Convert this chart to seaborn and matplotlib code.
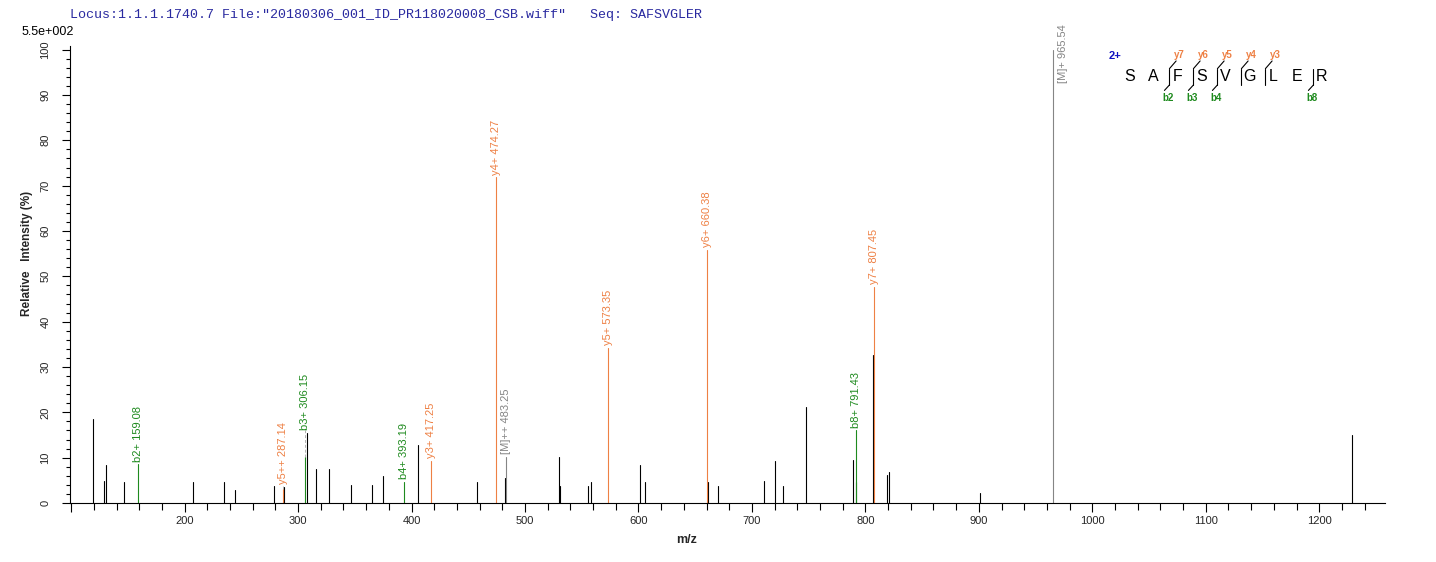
import numpy as np
import pandas as pd
import seaborn as sns
import matplotlib.pyplot as plt
from matplotlib.ticker import MultipleLocator

# unassigned peaks: m/z and relative intensity (%)
peak_mz = [119.6, 129.3, 130.8, 146.9, 207.2, 235.1, 244.8, 279.1, 288.0, 307.5,
           316.2, 327.6, 346.5, 365.5, 375.2, 406.1, 457.5, 482.6, 530.3, 531.2,
           555.9, 558.5, 601.7, 606.1, 661.7, 670.5, 711.0, 720.7, 727.8, 748.0,
           789.5, 791.9, 806.3, 819.4, 820.6, 901.3, 1229.3]
peak_int = [18.5, 4.9, 8.4, 4.6, 4.6, 4.6, 2.9, 3.7, 3.5, 15.5,
            7.5, 7.5, 4.0, 4.0, 6.0, 12.8, 4.6, 5.5, 10.2, 3.7,
            3.7, 4.6, 8.4, 4.6, 4.6, 3.7, 4.9, 9.3, 3.7, 21.2,
            9.5, 4.7, 32.7, 6.2, 6.9, 2.2, 14.9]

# assigned fragment ions
ion_name = ['b2+', 'y5++', 'b3+', 'b4+', 'y3+', 'y4+', '[M]++', 'y5+', 'y6+', 'b8+', 'y7+', '[M]+']
ion_mz = [159.08, 287.14, 306.15, 393.19, 417.25, 474.27, 483.25, 573.35, 660.38, 791.43, 807.45, 965.54]
ion_int = [8.5, 3.0, 10.2, 4.6, 9.3, 71.8, 10.2, 34.2, 55.8, 16.0, 47.7, 100.0]
ion_kind = ['b', 'y', 'b', 'b', 'y', 'y', 'M', 'y', 'y', 'b', 'y', 'M']

sequence = list('SAFSVGLER')
b_ions = [2, 3, 4, 8]
y_ions = [7, 6, 5, 4, 3]

colors = {'other': 'black', 'b': '#1e8a1e', 'y': '#ee8044', 'M': '#858585'}

# long form table: every peak is a unit with two points (base, top)
rows = []
pid = 0
for mz, it in zip(peak_mz, peak_int):
    rows += [(pid, mz, 0.0, 'other'), (pid, mz, it, 'other')]
    pid += 1
for mz, it, k in zip(ion_mz, ion_int, ion_kind):
    rows += [(pid, mz, 0.0, k), (pid, mz, it, k)]
    pid += 1
df = pd.DataFrame(rows, columns=['pid', 'mz', 'intensity', 'kind'])

sns.set_style('ticks')
plt.rcParams['font.family'] = ['Liberation Sans', 'DejaVu Sans']

fig = plt.figure(figsize=(14.36, 5.62), dpi=100)
ax = fig.add_axes([70 / 1436, 59 / 562, 1315 / 1436, 457 / 562])

sns.lineplot(data=df, x='mz', y='intensity', units='pid', estimator=None, hue='kind',
             palette=colors, legend=False, linewidth=0.8, sort=False, ax=ax)

ax.set_xlim(99, 1258)
ax.set_ylim(0, 100.8)
sns.despine(ax=ax)
for s in ['left', 'bottom']:
    ax.spines[s].set_linewidth(0.8)
    ax.spines[s].set_color('black')

xt = np.arange(100, 1300, 100)
ax.set_xticks(xt)
ax.set_xticklabels(['' if v == 100 else str(v) for v in xt], fontsize=8)
ax.xaxis.set_minor_locator(MultipleLocator(20))
ax.set_yticks(np.arange(0, 101, 10))
ax.set_yticklabels([str(v) for v in range(0, 101, 10)], fontsize=8, rotation=90, va='center')
ax.yaxis.set_minor_locator(MultipleLocator(2))
ax.tick_params(axis='x', which='major', length=6.5, width=0.8, pad=3, color='black')
ax.tick_params(axis='x', which='minor', length=4.8, width=0.8, color='black')
ax.tick_params(axis='y', which='major', length=6, width=0.8, pad=8, color='black')
ax.tick_params(axis='y', which='minor', length=3, width=0.8, color='black')

ax.set_xlabel('m/z', fontsize=9, fontweight='bold')
ax.set_ylabel('Relative   Intensity (%)', fontsize=8.5, fontweight='bold')
ax.xaxis.set_label_coords(0.469, -0.068)
ax.yaxis.set_label_coords(-0.028, 0.545)

# peak labels
for name, mz, it, k in zip(ion_name, ion_mz, ion_int, ion_kind):
    txt = f'{name} {mz:.2f}'
    if it >= 99:
        ax.text(mz + 8.5, 92.7, txt, rotation=90, ha='center', va='bottom',
                fontsize=8, color=colors[k], clip_on=False)
        continue
    near = [p for m, p in zip(peak_mz, peak_int) if abs(m - mz) < 3]
    top = max([it] + near)
    if top > it:
        ax.plot([mz, mz], [it, top + 0.5], color='#b0b0b0', lw=0.7, ls=(0, (3, 2)))
    ax.text(mz, top + 0.6, txt, rotation=90, ha='center', va='bottom',
            fontsize=8, color=colors[k])

# sequence coverage diagram
sx0, sdx, sy = 1032.7, 21.15, 94.1
for i, aa in enumerate(sequence):
    ax.text(sx0 + i * sdx, sy, aa, ha='center', va='center', fontsize=11.5, color='black')
ax.text(1020.1, 98.5, '2+', ha='center', va='center', fontsize=8, fontweight='bold', color='#1010c0')
cuts = sorted(set(b_ions) | set(len(sequence) - n for n in y_ions))
for c in cuts:
    bx = sx0 + c * sdx - 7.0
    ax.plot([bx, bx], [92.2, 95.8], color='black', lw=0.8)
    if c in b_ions:
        ax.plot([bx, bx - 4.4], [92.2, 91.0], color='black', lw=0.8)
        ax.text(bx - 1.5, 89.3, f'b{c}', ha='center', va='center', fontsize=7,
                fontweight='bold', color=colors['b'])
    n = len(sequence) - c
    if n in y_ions:
        ax.plot([bx, bx + 5.9], [95.8, 97.5], color='black', lw=0.8)
        ax.text(bx + 8.5, 98.9, f'y{n}', ha='center', va='center', fontsize=7,
                fontweight='bold', color=colors['y'])

fig.text(70 / 1436, 1 - 15 / 562,
         'Locus:1.1.1.1740.7 File:"20180306_001_ID_PR118020008_CSB.wiff"   Seq: SAFSVGLER',
         fontsize=9.6, family='Liberation Mono', color='#2a2aa0', va='center', ha='left')
fig.text(22 / 1436, 1 - 32 / 562, '5.5e+002', fontsize=9, va='center', ha='left', color='black')

fig.savefig('out.png', dpi=100, facecolor='white')
